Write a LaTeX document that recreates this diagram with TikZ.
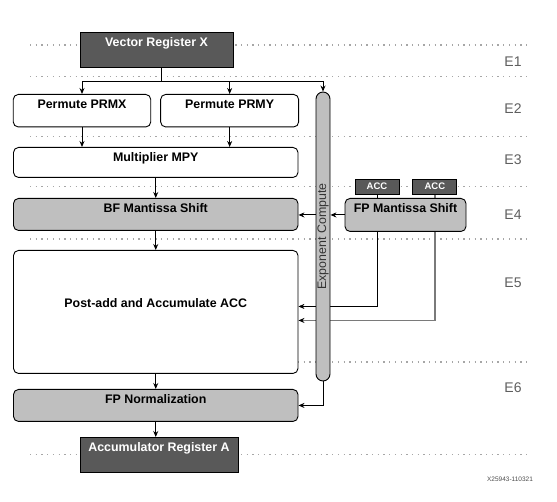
\documentclass[tikz,border=0pt]{standalone}
\usepackage{fontspec}
\setmainfont{Liberation Sans}
\usetikzlibrary{arrows.meta, positioning, backgrounds}
\definecolor{regfill}{HTML}{595959}
\definecolor{unitfill}{HTML}{BFBFBF}
\definecolor{dotgrey}{HTML}{A6A6A6}
\definecolor{stagegrey}{HTML}{5E5E5E}
\definecolor{wiregrey}{HTML}{7A7A7A}

\begin{document}
\begin{tikzpicture}[x=1pt,y=-1pt,>={Stealth[length=6pt,width=5pt]},line width=0.9pt,
	box/.style={draw, rounded corners=5pt, inner xsep=0pt, inner ysep=5pt, text height=9pt,
		font=\fontsize{12.4}{14}\selectfont\bfseries},
	unit/.style={box, fill=white},
	greyunit/.style={box, fill=unitfill},
	reg/.style={box, sharp corners, fill=regfill, text=white},
	acc/.style={draw, fill=regfill, text=white, minimum width=44pt, minimum height=15pt,
		inner sep=0pt, font=\fontsize{9.5}{10}\selectfont\bfseries},
	expbar/.style={draw, fill=unitfill, rounded corners=7pt, minimum width=14pt,
		minimum height=289pt, inner sep=0pt, text=black!80, font=\fontsize{12.4}{14}\selectfont},
	stageline/.style={dotgrey, line width=1.3pt, dash pattern=on 1.3pt off 4.4pt},
	stagelabel/.style={text=stagegrey, font=\fontsize{14}{16}\selectfont}]
	
	\useasboundingbox (0,0) rectangle (557,502);
	
	\node (vrx) [reg, minimum width=153pt, text depth=16pt, anchor=north] at (156.5,32) {Vector Register X};
	\node (prmx) [unit, minimum width=137.5pt, text depth=13.5pt, anchor=north] at (82,94) {Permute PRMX};
	\node (prmy) [unit, minimum width=138pt, text depth=13.5pt, right=9pt of prmx] {Permute PRMY};
	\node (mpy) [unit, minimum width=284.5pt, text depth=11pt, anchor=north] at (155.75,147) {Multiplier MPY};
	\node (bfms) [greyunit, minimum width=284.5pt, text depth=13pt, anchor=north] at (155.75,198) {BF Mantissa Shift};
	\node (fpms) [greyunit, minimum width=121pt, text depth=14pt, anchor=north] at (405.5,198) {FP Mantissa Shift};
	\node (acc1) [acc] at (377,186.5) {ACC};
	\node (acc2) [acc, right=13pt of acc1] {ACC};
	\node (postadd) [unit, minimum width=284.5pt, text height=52pt, text depth=61pt, anchor=north] at (155.75,250) {Post-add and Accumulate ACC};
	\node (fpnorm) [greyunit, minimum width=284.5pt, text depth=13pt, anchor=north] at (155.75,389) {FP Normalization};
	\node (acca) [reg, minimum width=158pt, text depth=16pt, anchor=north] at (159,437) {Accumulator Register A};
	\node (expc) [expbar] at (323,236.5) {\rotatebox{90}{Exponent Compute}};
	
	\foreach \lab/\y in {E1/62, E2/109, E3/160, E4/215, E5/283, E6/388}
	\node (\lab) [stagelabel] at (513,\y) {\lab};
	\node (fignum) [font=\fontsize{6.5}{7}\selectfont, text=black!70] at (510,479) {X25943-110321};
	
	\coordinate (split) at (161,81);
	\draw (vrx.south -| split) -- (split);
	\draw [->] (split) -| (prmx.north);
	\draw [->] (split) -| (prmy.north);
	\draw [->] (split) -| (expc.north);
	
	\draw [->] (prmx.south) -- (prmx.south |- mpy.north);
	\draw [->] (prmy.south) -- (prmy.south |- mpy.north);
	\draw [->] (mpy) -- (bfms);
	\draw [->] (bfms) -- (postadd);
	\draw [->] (postadd) -- (fpnorm);
	\draw [->] (fpnorm.south) -- (fpnorm.south |- acca.north);
	
	\draw [->] (fpms.west) -- (fpms.west -| expc.east);
	\draw [->] (fpms.west -| expc.west) -- (fpms.west -| bfms.east);
	\draw [->] (expc.south) |- (fpnorm.east);
	
	\begin{scope}[on background layer]
		\foreach \y in {45,76.5,136.5,186.5,239,362,454.5}
		\draw [stageline] (30,\y) -- (529,\y);
		
		\draw (acc1) -- (acc1 |- fpms.north);
		\draw [->] (acc1 |- fpms.south) |- ([yshift=5.5pt]postadd.east);
		\draw [wiregrey, line width=1.5pt] (acc2) -- (acc2 |- fpms.north);
		\draw [-{Stealth[length=6pt,width=5pt,black]}, wiregrey, line width=1.5pt]
			(acc2 |- fpms.south) |- ([yshift=-8.5pt]postadd.east);
	\end{scope}
\end{tikzpicture}
\end{document}
